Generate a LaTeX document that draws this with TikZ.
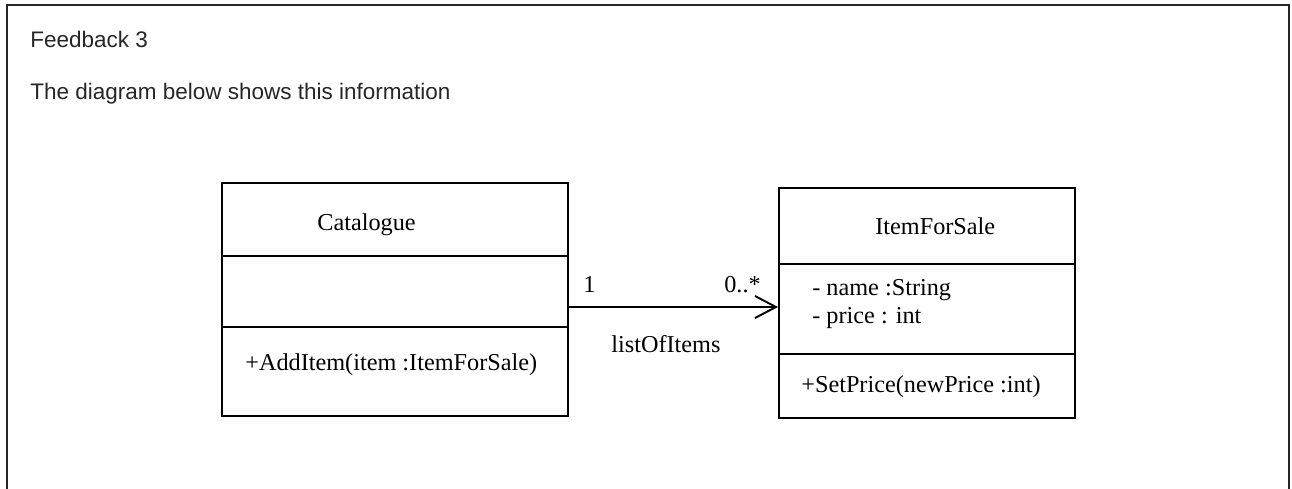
\documentclass[tikz,border=0pt]{standalone}
\usepackage{fontspec}
\setmainfont{Liberation Serif}
\newfontfamily\notefont{Liberation Sans}
\usetikzlibrary{arrows.meta}

\tikzset{
	part/.style = {draw, line width=1.1pt, inner sep=0pt},
	umltext/.style = {anchor=base west, inner sep=0pt, font=\fontsize{13.8}{16.4}\selectfont},
	notetext/.style = {anchor=base west, inner sep=0pt, font=\notefont\fontsize{12.8}{15}\selectfont, text=black!85},
	assoc/.style = {line width=1.1pt, -{Straight Barb[length=0.42cm, width=0.44cm, line width=1.1pt]}}
}

\begin{document}
\begin{tikzpicture}[x=0.02cm, y=-0.02cm]
		\useasboundingbox (0,0) rectangle (1292,488);
		% frame, open at the bottom
		\draw[line width=1.6pt, black!85] (7,490) -- (7,5) -- (1289,5) -- (1289,490);
		\node[notetext] (fb) at (30,47) {Feedback 3};
		\node[notetext] (intro) at (30,99) {The diagram below shows this information};

		% class Catalogue
		\node[part, minimum width=6.92cm, minimum height=1.46cm] (cat-name) at (395,219.5) {};
		\node[part, minimum width=6.92cm, minimum height=1.42cm] (cat-attr) at (395,291.5) {};
		\node[part, minimum width=6.92cm, minimum height=1.78cm] (cat-op) at (395,371.5) {};
		\node[umltext] (cat-title) at (317,230) {Catalogue};
		\node[umltext] (cat-add) at (245,370) {+AddItem(item :ItemForSale)};

		% class ItemForSale
		\node[part, minimum width=5.92cm, minimum height=1.52cm] (item-name) at (927,226) {};
		\node[part, minimum width=5.92cm, minimum height=1.80cm] (item-attr) at (927,309) {};
		\node[part, minimum width=5.92cm, minimum height=1.28cm] (item-op) at (927,386) {};
		\node[umltext] (item-title) at (875,234) {ItemForSale};
		\node[umltext] (item-name-f) at (812,295) {- name :String};
		\node[umltext] (item-price-f) at (812,323) {- price : int};
		\node[umltext] (item-set) at (801,392) {+SetPrice(newPrice :int)};

		% association
		\draw[assoc] (cat-attr.east |- 0,307) -- (item-attr.west |- 0,307);
		\node[umltext] (m-one) at (583,292) {1};
		\node[umltext] (m-many) at (724,292) {0..*};
		\node[umltext] (role) at (611,352) {listOfItems};
	\end{tikzpicture}
\end{document}
